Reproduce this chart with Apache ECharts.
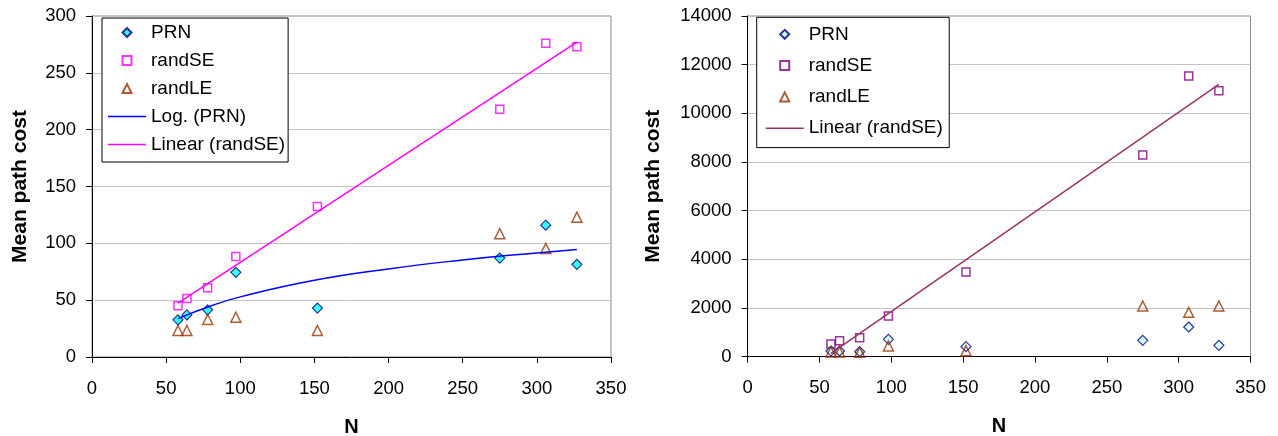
<!DOCTYPE html>
<html><head><meta charset="utf-8">
<script src="https://cdn.jsdelivr.net/npm/echarts@6/dist/echarts.min.js"></script>
<style>
html,body{margin:0;padding:0;background:#fff;width:1278px;height:436px;overflow:hidden}
#c1{position:absolute;left:0;top:0;width:640px;height:436px}
#c2{position:absolute;left:640px;top:0;width:638px;height:436px}
</style>
</head><body><div id="c1"></div><div id="c2"></div>
<script>
// ---- data ----
const nLeft  = [58, 64, 78, 97, 152, 275, 306, 327];
const prnLeft    = [32.7, 37, 41.5, 74.5, 43, 87, 116, 81.5];
const randSELeft = [45, 51.5, 61, 88.5, 132.5, 218, 276, 273];
const randLELeft = [23.3, 23.3, 33, 35, 23.3, 108.5, 95.5, 123];
const logPrnN    = [58, 80, 100, 150, 200, 250, 300, 327];
const logPrnCost = [33.8, 44.8, 52.9, 67.5, 77.5, 85.3, 91.6, 94.6];
const linSELeftN    = [58, 327];
const linSELeftCost = [47.5, 277];

const nRight = [58, 64, 78, 98, 152, 275, 307, 328];
const prnRight    = [226, 226, 197, 707, 403, 666, 1213, 460];
const randSERight = [514, 650, 773, 1665, 3474, 8285, 11534, 10929];
const randLERight = [185, 185, 172, 432, 238, 2076, 1817, 2076];
const linSERightN    = [58, 328];
const linSERightCost = [130, 11190];

const xTicks = {min: 0, max: 350, interval: 50};
const yTicksLeft = {min: 0, max: 300, interval: 50};
const yTicksRight = {min: 0, max: 14000, interval: 2000};

const FONT = '"Liberation Sans", Arial, sans-serif';
const pairs = (xs, ys) => xs.map((x, i) => [x, ys[i]]);
const LINE_ICON = 'path://M0,0H38V1.5H0Z';
const DIAMOND_ICON = 'path://M5,0L10,5L5,10L0,5Z';
const SQUARE_ICON = 'path://M0,0H8V8H0Z';
const TRIANGLE_ICON = 'path://M5,0L10,10H0Z';

function axes(yT, yGap) {
  return {
    xAxis: {
      type: 'value', min: xTicks.min, max: xTicks.max, interval: xTicks.interval,
      name: 'N', nameLocation: 'middle', nameGap: 60,
      nameTextStyle: {fontFamily: FONT, fontSize: 20, fontWeight: 'bold', color: '#000'},
      axisLine: {show: true, onZero: false, lineStyle: {color: '#000', width: 1}},
      axisTick: {show: true, inside: false, length: 6, lineStyle: {color: '#000'}},
      axisLabel: {fontFamily: FONT, fontSize: 18.5, color: '#000', margin: 22},
      splitLine: {show: false}
    },
    yAxis: {
      type: 'value', min: yT.min, max: yT.max, interval: yT.interval,
      name: 'Mean path cost', nameLocation: 'middle', nameGap: yGap, nameRotate: 90,
      nameTextStyle: {fontFamily: FONT, fontSize: 21, fontWeight: 'bold', color: '#000'},
      axisLine: {show: true, onZero: false, lineStyle: {color: '#000', width: 1}},
      axisTick: {show: true, inside: false, length: 6, lineStyle: {color: '#000'}},
      axisLabel: {fontFamily: FONT, fontSize: 18.5, color: '#000', margin: 16,
                  formatter: v => String(v)},
      splitLine: {show: true, lineStyle: {color: '#c4c4c4', width: 1}}
    }
  };
}

function legend(left, top, padding, gap, items) {
  return {
    orient: 'vertical', left: left, top: top,
    padding: padding, itemGap: gap, itemWidth: 38, itemHeight: 9,
    symbolKeepAspect: true,
    backgroundColor: '#fff', borderColor: '#000', borderWidth: 1,
    textStyle: {fontFamily: FONT, fontSize: 19, color: '#000', lineHeight: 20},
    data: items
  };
}

function grid(left, right, bottom) {
  return {left: left, right: right, top: 16, bottom: bottom, outerBoundsMode: 'none', containLabel: false,
          show: true, borderColor: '#8c8c8c', borderWidth: 1, backgroundColor: 'transparent'};
}

// ---- left chart ----
const c1 = echarts.init(document.getElementById('c1'), null, {renderer: 'canvas'});
const a1 = axes(yTicksLeft, 61);
c1.setOption({
  animation: false,
  backgroundColor: '#fff',
  grid: grid(92, 29, 79),
  xAxis: a1.xAxis, yAxis: a1.yAxis,
  legend: legend(102, 18, [4.5, 3, 7.5, 6], 8, [
    {name: 'PRN', icon: DIAMOND_ICON},
    {name: 'randSE', icon: SQUARE_ICON},
    {name: 'randLE', icon: TRIANGLE_ICON},
    {name: 'Log. (PRN)', icon: LINE_ICON},
    {name: 'Linear (randSE)', icon: LINE_ICON}
  ]),
  series: [
    {name: 'Log. (PRN)', type: 'line', data: pairs(logPrnN, logPrnCost), smooth: true, symbol: 'none',
     lineStyle: {color: '#0000ff', width: 1.5}, itemStyle: {color: '#0000ff'}},
    {name: 'Linear (randSE)', type: 'line', data: pairs(linSELeftN, linSELeftCost), symbol: 'none',
     lineStyle: {color: '#ff00ff', width: 1.5}, itemStyle: {color: '#ff00ff'}},
    {name: 'randLE', type: 'scatter', data: pairs(nLeft, randLELeft), symbol: 'triangle', symbolSize: 10,
     itemStyle: {color: 'rgba(255,255,255,0)', borderColor: '#993300', borderWidth: 1.5}},
    {name: 'randSE', type: 'scatter', data: pairs(nLeft, randSELeft), symbol: 'rect', symbolSize: 8,
     itemStyle: {color: '#fff', borderColor: '#ff00ff', borderWidth: 1.5}},
    {name: 'PRN', type: 'scatter', data: pairs(nLeft, prnLeft), symbol: 'diamond', symbolSize: 10,
     itemStyle: {color: '#00ffff', borderColor: '#000080', borderWidth: 1.2}}
  ]
});

// ---- right chart ----
const c2 = echarts.init(document.getElementById('c2'), null, {renderer: 'canvas'});
const a2 = axes(yTicksRight, 84);
c2.setOption({
  animation: false,
  backgroundColor: '#fff',
  grid: grid(107.6, 27.5, 79.5),
  xAxis: a2.xAxis, yAxis: a2.yAxis,
  legend: legend(116.7, 17.3, [7, 6.4, 9.4, 9], 11.3, [
    {name: 'PRN', icon: DIAMOND_ICON},
    {name: 'randSE', icon: SQUARE_ICON},
    {name: 'randLE', icon: TRIANGLE_ICON},
    {name: 'Linear (randSE)', icon: LINE_ICON}
  ]),
  series: [
    {name: 'Linear (randSE)', type: 'line', data: pairs(linSERightN, linSERightCost), symbol: 'none',
     lineStyle: {color: '#993366', width: 1.5}, itemStyle: {color: '#993366'}},
    {name: 'randSE', type: 'scatter', data: pairs(nRight, randSERight), symbol: 'rect', symbolSize: 8,
     itemStyle: {color: 'rgba(255,255,255,0)', borderColor: '#800080', borderWidth: 1.5}},
    {name: 'PRN', type: 'scatter', data: pairs(nRight, prnRight), symbol: 'diamond', symbolSize: 10,
     itemStyle: {color: '#ccffff', borderColor: '#000080', borderWidth: 1.2}},
    {name: 'randLE', type: 'scatter', data: pairs(nRight, randLERight), symbol: 'triangle', symbolSize: 10,
     itemStyle: {color: 'rgba(255,255,255,0)', borderColor: '#993300', borderWidth: 1.5}}
  ]
});
</script>
</body></html>
